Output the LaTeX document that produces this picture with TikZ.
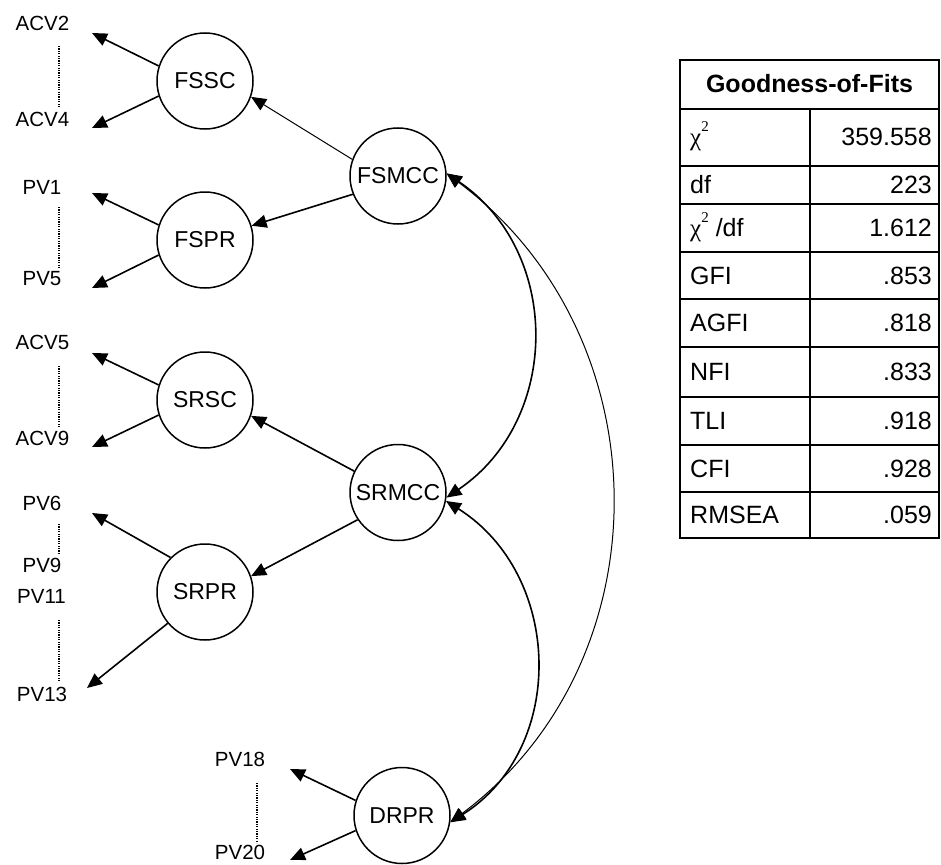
\documentclass[tikz,border=0pt]{standalone}
\usepackage{fontspec}
\setmainfont{Liberation Sans}
\newfontfamily\greekserif{Liberation Serif}
\usetikzlibrary{arrows.meta}
% chi-square symbol with a small raised 2
\newcommand\chisqsym{{\greekserif χ}\raisebox{0.55em}{\fontsize{15}{15}\selectfont\greekserif 2}}
\begin{document}
\begin{tikzpicture}[x=1pt,y=-1pt,
  lat/.style={circle,draw,line width=1.5pt,minimum size=96pt,inner sep=0pt,
              font=\fontsize{23}{23}\selectfont},
  lbl/.style={inner sep=0pt,font=\fontsize{20.5}{20.5}\selectfont},
  head/.style={-{Triangle[length=15pt,width=13pt]}},
  load/.style={head,line width=1.6pt},
  thinload/.style={head,line width=1pt},
  cov/.style={{Triangle[length=15pt,width=13pt]}-{Triangle[length=15pt,width=13pt]},line width=1.6pt},
  thincov/.style={cov,line width=1pt},
  dotline/.style={line width=1.2pt,dash pattern=on 1.2pt off 1.2pt},
  cell/.style={inner sep=0pt,font=\fontsize{25}{25}\selectfont},
  rule/.style={line width=2pt}
]
\useasboundingbox (0,0) rectangle (941,864);

% latent factors
\node[lat] (FSSC)  at (205,81)    {FSSC};
\node[lat] (FSPR)  at (205,240)   {FSPR};
\node[lat] (SRSC)  at (205,400)   {SRSC};
\node[lat] (SRPR)  at (205,592)   {SRPR};
\node[lat] (FSMCC) at (398,176)   {FSMCC};
\node[lat] (SRMCC) at (398,492.5) {SRMCC};
\node[lat] (DRPR)  at (402,815.5) {DRPR};

% indicator labels
\node[lbl] (ACV2) at (42.5,23)  {ACV2};
\node[lbl] (ACV4) at (42.5,119) {ACV4};
\node[lbl] (PV1)  at (42,187)   {PV1};
\node[lbl] (PV5)  at (42,279)   {PV5};
\node[lbl] (ACV5) at (42.5,342) {ACV5};
\node[lbl] (ACV9) at (42.5,438) {ACV9};
\node[lbl] (PV6)  at (42,503)   {PV6};
\node[lbl] (PV9)  at (42,565)   {PV9};
\node[lbl] (PV11) at (41.5,596) {PV11};
\node[lbl] (PV13) at (42,694)   {PV13};
\node[lbl] (PV18) at (240,759)  {PV18};
\node[lbl] (PV20) at (240,852.5) {PV20};

% ellipsis marks between first and last indicator
\draw[dotline] (59,46)  -- (59,107);
\draw[dotline] (59,207) -- (59,268);
\draw[dotline] (59,366) -- (59,427);
\draw[dotline] (59,524) -- (59,553);
\draw[dotline] (59,620) -- (59,682);
\draw[dotline] (257,783) -- (257,843);

% free ends of the loading arrows
\coordinate (tFSSCa) at (92,33);   \coordinate (tFSSCb) at (92,128);
\coordinate (tFSPRa) at (92,193);  \coordinate (tFSPRb) at (92,288);
\coordinate (tSRSCa) at (92,353);  \coordinate (tSRSCb) at (92,447);
\coordinate (tSRPRa) at (92,513);  \coordinate (tSRPRb) at (87,688);
\coordinate (tDRPRa) at (290,769); \coordinate (tDRPRb) at (290,860);

% loadings on indicators
\draw[load] (FSSC.162)  -- (tFSSCa);
\draw[load] (FSSC.-162) -- (tFSSCb);
\draw[load] (FSPR.162)  -- (tFSPRa);
\draw[load] (FSPR.-162) -- (tFSPRb);
\draw[load] (SRSC.162)  -- (tSRSCa);
\draw[load] (SRSC.-162) -- (tSRSCb);
\draw[load] (SRPR.135)  -- (tSRPRa);
\draw[load] (SRPR.-140) -- (tSRPRb);
\draw[load] (DRPR.162)  -- (tDRPRa);
\draw[load] (DRPR.-162) -- (tDRPRb);

% second-order loadings
\draw[thinload] (FSMCC.160)  -- (FSSC.-19);
\draw[load]     (FSMCC.-158) -- (FSPR.17);
\draw[load]     (SRMCC.154)  -- (SRSC.-19);
\draw[load]     (SRMCC.-146) -- (SRPR.19);

% covariances
\draw[cov] (FSMCC.3) .. controls +(115,78) and +(115,-78) .. (SRMCC.-6);
\draw[cov] (SRMCC.-10) .. controls +(117,74) and +(117,-74) .. (DRPR.-8);
\draw[thincov] (FSMCC.3) .. controls +(217,162) and +(217,-162) .. (DRPR.-8);

% fit table
\draw[rule] (680,60) rectangle (939,538);
\foreach \yy in {109,166,204,252,299,347,397,445,492}
  \draw[rule] (680,\yy) -- (939,\yy);
\draw[rule] (810,109) -- (810,538);

\node[cell,anchor=base,font=\fontsize{25}{25}\selectfont\bfseries] (title) at (809.5,93) {Goodness-of-Fits};
\node[cell,anchor=base west] (k1) at (690,145)   {\chisqsym};
\node[cell,anchor=base west] (k2) at (690,193.5) {df};
\node[cell,anchor=base west] (k3) at (690,236.5) {\chisqsym\ /df};
\node[cell,anchor=base west] (k4) at (690,284)   {GFI};
\node[cell,anchor=base west] (k5) at (690,331.5) {AGFI};
\node[cell,anchor=base west] (k6) at (690,380.5) {NFI};
\node[cell,anchor=base west] (k7) at (690,429.5) {TLI};
\node[cell,anchor=base west] (k8) at (690,477)   {CFI};
\node[cell,anchor=base west] (k9) at (690,523.5) {RMSEA};

\node[cell,anchor=base east] (v1) at (932,145)   {359.558};
\node[cell,anchor=base east] (v2) at (932,193.5) {223};
\node[cell,anchor=base east] (v3) at (932,236.5) {1.612};
\node[cell,anchor=base east] (v4) at (932,284)   {.853};
\node[cell,anchor=base east] (v5) at (932,331.5) {.818};
\node[cell,anchor=base east] (v6) at (932,380.5) {.833};
\node[cell,anchor=base east] (v7) at (932,429.5) {.918};
\node[cell,anchor=base east] (v8) at (932,477)   {.928};
\node[cell,anchor=base east] (v9) at (932,523.5) {.059};
\end{tikzpicture}
\end{document}
